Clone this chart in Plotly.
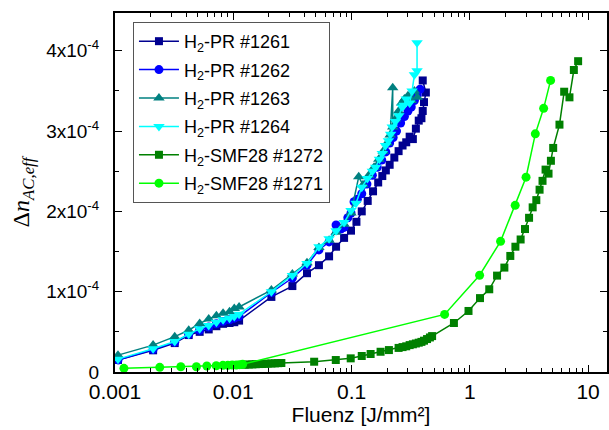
import plotly.graph_objects as go

# ---------------- data ----------------
names = ["H<sub>2</sub>-PR #1261", "H<sub>2</sub>-PR #1262", "H<sub>2</sub>-PR #1263",
         "H<sub>2</sub>-PR #1264", "H<sub>2</sub>-SMF28 #1272", "H<sub>2</sub>-SMF28 #1271"]

x_1261 = [0.00106, 0.0021, 0.0032, 0.0042, 0.0052, 0.0062, 0.0072, 0.0082, 0.0093, 0.0102, 0.0112,
          0.021, 0.0316, 0.042, 0.053, 0.0646, 0.074, 0.0865, 0.099, 0.11, 0.122, 0.137, 0.152, 0.168,
          0.182, 0.195, 0.21, 0.23, 0.25, 0.27, 0.29, 0.31, 0.33, 0.35, 0.37, 0.39, 0.40, 0.41, 0.425, 0.40]
y_1261 = [0.15, 0.27, 0.36, 0.46, 0.50, 0.53, 0.57, 0.60, 0.61, 0.62, 0.64,
          0.935, 1.07, 1.23, 1.33, 1.44, 1.56, 1.67, 1.76, 1.87, 2.00, 2.13, 2.25, 2.36,
          2.44, 2.51, 2.58, 2.67, 2.75, 2.82, 2.86, 2.93, 2.90, 3.03, 3.13, 3.16, 3.25, 3.36, 3.48, 3.63]

x_1262 = [0.00106, 0.0021, 0.0032, 0.0042, 0.0052, 0.0062, 0.0072, 0.0082, 0.0093, 0.0102, 0.0112,
          0.021, 0.0316, 0.042, 0.053, 0.0646, 0.074, 0.081, 0.0865, 0.093, 0.099, 0.105, 0.112, 0.122,
          0.135, 0.15, 0.165, 0.18, 0.195, 0.21, 0.225, 0.24, 0.26, 0.28, 0.30, 0.32, 0.34, 0.36, 0.38]
y_1262 = [0.15, 0.28, 0.37, 0.47, 0.52, 0.56, 0.60, 0.63, 0.65, 0.67, 0.69,
          0.99, 1.17, 1.33, 1.52, 1.62, 1.83, 1.78, 1.80, 1.92, 1.98, 2.12, 2.15, 2.22,
          2.34, 2.45, 2.55, 2.64, 2.74, 2.85, 2.92, 3.00, 3.10, 3.18, 3.25, 3.30, 3.38, 3.45, 3.52]

x_1263 = [0.00106, 0.0021, 0.0032, 0.0042, 0.0052, 0.0062, 0.0072, 0.0082, 0.0093, 0.0102, 0.0112,
          0.021, 0.0316, 0.042, 0.053, 0.0646, 0.074, 0.0865, 0.099, 0.115, 0.125, 0.14, 0.155, 0.17,
          0.185, 0.20, 0.212, 0.223, 0.223, 0.235, 0.25, 0.265, 0.28, 0.30, 0.32, 0.34, 0.36]
y_1263 = [0.21, 0.335, 0.44, 0.52, 0.605, 0.66, 0.70, 0.73, 0.75, 0.79, 0.81,
          1.02, 1.22, 1.36, 1.55, 1.64, 1.74, 1.84, 1.98, 2.43, 2.33, 2.45, 2.55, 2.65,
          2.75, 2.85, 2.95, 3.54, 3.05, 3.15, 3.25, 3.35, 3.40, 3.44, 3.38, 3.50, 3.42]

x_1264 = [0.00106, 0.0021, 0.0032, 0.0042, 0.0052, 0.0062, 0.0072, 0.0082, 0.0093, 0.0102, 0.0112,
          0.021, 0.0316, 0.042, 0.053, 0.0646, 0.074, 0.0865, 0.099, 0.109, 0.122, 0.136, 0.150, 0.160,
          0.172, 0.182, 0.194, 0.205, 0.214, 0.221, 0.235, 0.251, 0.268, 0.277, 0.29, 0.31, 0.325, 0.34,
          0.358, 0.358]
y_1264 = [0.16, 0.29, 0.38, 0.47, 0.54, 0.58, 0.62, 0.65, 0.67, 0.69, 0.72,
          1.00, 1.20, 1.35, 1.56, 1.66, 1.76, 1.86, 2.01, 2.10, 2.30, 2.41, 2.50, 2.55,
          2.65, 2.72, 2.82, 2.88, 2.96, 3.05, 3.12, 3.19, 3.30, 3.32, 3.40, 3.35, 3.50, 3.70,
          3.75, 4.10]

x_1272 = [0.0125, 0.0135, 0.0145, 0.0155, 0.0165, 0.0175, 0.0185, 0.0195, 0.021, 0.0225, 0.024, 0.0255,
          0.0483, 0.0736, 0.0984, 0.122, 0.145, 0.176, 0.207, 0.25, 0.27, 0.29, 0.31, 0.33, 0.35, 0.37,
          0.39, 0.41, 0.435, 0.46, 0.48, 0.734, 0.975, 1.22, 1.46, 1.70, 1.96, 2.20, 2.43, 2.69, 2.93,
          3.17, 3.40, 3.65, 3.89, 4.12, 4.37, 4.63, 4.85, 5.07, 5.73, 6.28, 6.96, 7.58, 8.24]
y_1272 = [0.09, 0.093, 0.095, 0.097, 0.099, 0.10, 0.102, 0.104, 0.106, 0.108, 0.11, 0.112,
          0.128, 0.149, 0.17, 0.199, 0.224, 0.252, 0.273, 0.30, 0.31, 0.32, 0.335, 0.345, 0.355, 0.365,
          0.375, 0.39, 0.41, 0.43, 0.447, 0.61, 0.76, 0.92, 1.03, 1.20, 1.30, 1.445, 1.56, 1.65, 1.78,
          1.92, 2.05, 2.14, 2.27, 2.38, 2.52, 2.47, 2.63, 2.79, 3.08, 3.49, 3.42, 3.76, 3.87]

x_1271 = [0.00119, 0.00239, 0.0036, 0.00488, 0.00598, 0.00718, 0.00817, 0.0090, 0.0098, 0.0106, 0.0113,
          0.0120, 0.612, 1.21, 1.82, 2.42, 2.99, 3.58, 4.21, 4.82]
y_1271 = [0.046, 0.058, 0.066, 0.066, 0.075, 0.078, 0.083, 0.083, 0.087, 0.087, 0.091,
          0.096, 0.717, 1.205, 1.627, 2.075, 2.426, 2.965, 3.283, 3.631]

y_scale = 1e-4
y_tickvals = [0, 1e-4, 2e-4, 3e-4, 4e-4]
y_ticktext = ["0", "1x10<sup>-4</sup>", "2x10<sup>-4</sup>", "3x10<sup>-4</sup>", "4x10<sup>-4</sup>"]
x_tickvals = [0.001, 0.01, 0.1, 1, 10]
x_ticktext = ["0.001", "0.01", "0.1", "1", "10"]

series = [
    (x_1261, y_1261, "#000090", "square", 8),
    (x_1262, y_1262, "#0000FF", "circle", 9),
    (x_1263, y_1263, "#008080", "triangle-up", 10),
    (x_1264, y_1264, "#00FFFF", "triangle-down", 10),
    (x_1272, y_1272, "#008000", "square", 8),
    (x_1271, y_1271, "#00FF00", "circle", 9),
]

fig = go.Figure()
for name, (xs, ys, col, sym, sz) in zip(names, series):
    fig.add_trace(go.Scatter(
        x=xs, y=[v * y_scale for v in ys], name=name, mode="lines+markers",
        line=dict(color=col, width=1.5),
        marker=dict(color=col, symbol=sym, size=sz, line=dict(width=0)),
        legendgroup=name,
    ))

SANS = "Arial, Liberation Sans, sans-serif"
xtick_font = dict(family=SANS, size=21, color="black")
ytick_font = dict(family=SANS, size=19, color="black")

fig.update_layout(
    width=609, height=430,
    margin=dict(l=115, r=0, t=13, b=58),
    paper_bgcolor="white", plot_bgcolor="white",
    font=dict(family=SANS, size=20, color="black"),
    showlegend=True,
    legend=dict(
        x=0.0365, y=0.975, xanchor="left", yanchor="top",
        bgcolor="white", bordercolor="#555555", borderwidth=1,
        font=dict(family=SANS, size=18, color="black"),
        tracegroupgap=2, traceorder="grouped", itemwidth=40,
    ),
)

fig.update_xaxes(
    type="log", range=[-3, 1.16],
    tickmode="array", tickvals=x_tickvals, ticktext=x_ticktext,
    ticks="inside", ticklen=7, tickwidth=1.2, tickcolor="black",
    showline=True, linecolor="black", linewidth=2, mirror="ticks",
    showgrid=False, zeroline=False,
    minor=dict(ticks="inside", ticklen=4, tickwidth=1.2, tickcolor="black", dtick="D1", showgrid=False),
    tickfont=xtick_font,
    title=dict(text="Fluenz [J/mm²]", font=dict(family=SANS, size=21, color="black"), standoff=3),
)

fig.update_yaxes(
    range=[0, 4.47e-4],
    tickmode="array", tickvals=y_tickvals, ticktext=y_ticktext,
    ticks="inside", ticklen=7, tickwidth=1.2, tickcolor="black",
    showline=True, linecolor="black", linewidth=2, mirror="ticks",
    showgrid=False, zeroline=False,
    minor=dict(ticks="inside", ticklen=4, tickwidth=1.2, tickcolor="black",
               tickmode="linear", tick0=0, dtick=5e-5, showgrid=False),
    tickfont=ytick_font, ticklabelstandoff=10,
    title=dict(text="Δ<i>n</i><sub><i>AC,eff</i></sub>",
               font=dict(family="Liberation Serif, Times New Roman, serif", size=24, color="black"),
               standoff=10),
)

fig.write_html("out.html", config={"displayModeBar": False},
               post_script="document.body.style.margin='0';document.body.style.overflow='hidden';")
